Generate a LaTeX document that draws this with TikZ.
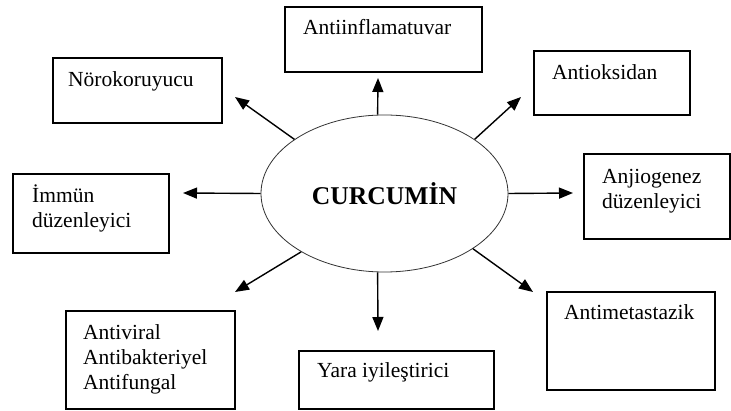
\documentclass[tikz,border=0pt]{standalone}
\usepackage{fontspec}
\setmainfont{Liberation Serif}
\usetikzlibrary{shapes.geometric, arrows.meta}

\begin{document}
\begin{tikzpicture}[x=1pt, y=-1pt,
        box/.style={draw, line width=1.3pt, minimum width=#1},
        lbl/.style={anchor=base west, inner sep=0pt, font=\fontsize{21.5}{25}\selectfont},
        arr/.style={-{Triangle[length=14pt, width=11pt]}, line width=1.4pt}]
        \useasboundingbox (0,0) rectangle (731,411);

        \node[ellipse, draw=black!80, line width=0.8pt, minimum width=247pt, minimum height=157pt,
              font=\fontsize{25.6}{30}\selectfont\bfseries] at (384.5,193.5) (cur) {CURCUMİN};

        \node[box=197pt, minimum height=65pt] at (383.5,39.5) (inflam) {};
        \node[box=169pt, minimum height=65pt] at (137.5,90.5) (noro) {};
        \node[box=156pt, minimum height=64pt] at (612,83) (oks) {};
        \node[box=156pt, minimum height=79pt] at (91,213.5) (immun) {};
        \node[box=146pt, minimum height=85pt] at (657,196.5) (anjio) {};
        \node[box=169pt, minimum height=98pt] at (150.5,360) (viral) {};
        \node[box=195pt, minimum height=58pt] at (396.5,380) (yara) {};
        \node[box=168pt, minimum height=98pt] at (631,341) (meta) {};

        \node[lbl] at (303,35) (tinflam) {Antiinflamatuvar};
        \node[lbl] at (68,87) (tnoro) {Nörokoruyucu};
        \node[lbl] at (552,80) (toks) {Antioksidan};
        \node[lbl] at (32,203) (timmun1) {İmmün};
        \node[lbl] at (32,228) (timmun2) {düzenleyici};
        \node[lbl] at (602,184) (tanjio1) {Anjiogenez};
        \node[lbl] at (602,209) (tanjio2) {düzenleyici};
        \node[lbl] at (83,340) (tviral1) {Antiviral};
        \node[lbl] at (83,365) (tviral2) {Antibakteriyel};
        \node[lbl] at (83,390) (tviral3) {Antifungal};
        \node[lbl] at (317,378) (tyara) {Yara iyileştirici};
        \node[lbl] at (564,320) (tmeta) {Antimetastazik};

        % arrow tips
        \coordinate (pinflam) at (378,78);
        \coordinate (pnoro) at (235,97);
        \coordinate (poks) at (521,97);
        \coordinate (pimmun) at (183,193);
        \coordinate (panjio) at (573,193);
        \coordinate (pviral) at (235,292);
        \coordinate (pyara) at (378,331);
        \coordinate (pmeta) at (533,292);

        \draw[arr] (cur.95) -- (pinflam);
        \draw[arr] (cur.149) -- (pnoro);
        \draw[arr] (cur.31) -- (poks);
        \draw[arr] (cur.west) -- (pimmun);
        \draw[arr] (cur.east) -- (panjio);
        \draw[arr] (cur.215) -- (pviral);
        \draw[arr] (cur.265) -- (pyara);
        \draw[arr] (cur.328) -- (pmeta);
    \end{tikzpicture}
\end{document}
